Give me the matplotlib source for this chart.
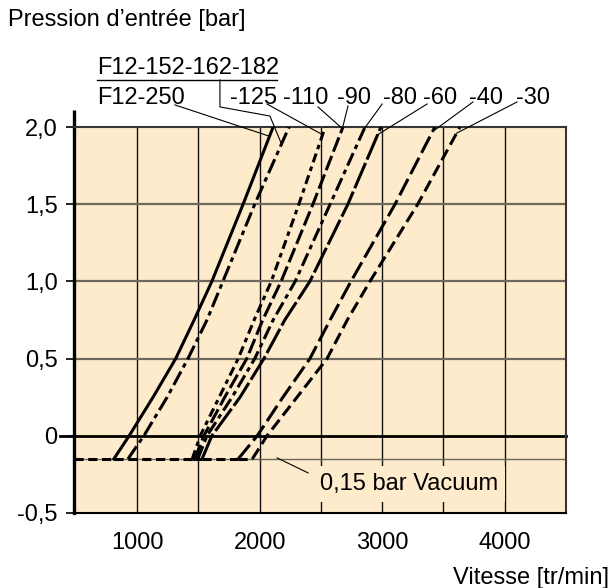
import numpy as np
import matplotlib
matplotlib.use("Agg")
import matplotlib.pyplot as plt

plt.rcParams["font.family"] = ["Liberation Sans", "DejaVu Sans"]
plt.rcParams["font.size"] = 17

# pressure levels (bar) at which the speed of each curve was read
pressure = [-0.15, 0.0, 0.25, 0.5, 0.75, 1.0, 1.5, 2.0]

# speed (rpm) per curve at those pressure levels
f12_250 = [810, 935, 1130, 1315, 1465, 1610, 1865, 2110]
f12_152 = [925, 1055, 1245, 1415, 1570, 1700, 1960, 2240]
f12_125 = [1450, 1515, 1670, 1825, 1955, 2095, 2320, 2535]
f12_110 = [1470, 1545, 1715, 1895, 2025, 2175, 2435, 2680]
f12_80 = [1495, 1570, 1775, 1960, 2110, 2290, 2575, 2860]
f12_60 = [1530, 1610, 1840, 2035, 2205, 2410, 2720, 2990]
f12_40 = [1825, 1980, 2190, 2410, 2575, 2745, 3105, 3430]
f12_30 = [1940, 2060, 2305, 2550, 2715, 2900, 3290, 3635]

curves = [f12_250, f12_152, f12_125, f12_110, f12_80, f12_60, f12_40, f12_30]
styles = [
    "-",
    (0, (5, 1.5, 1.5, 1.5)),
    (0, (3, 1.5, 1.5, 1.5)),
    (0, (5, 1.5)),
    (0, (4.5, 1.5, 1.5, 1.5)),
    (0, (9, 1.2)),
    (0, (6, 1.8)),
    (0, (4, 1.8)),
]

x_ticks = [1000, 2000, 3000, 4000]
x_labels = ["1000", "2000", "3000", "4000"]
y_ticks = [-0.5, 0, 0.5, 1.0, 1.5, 2.0]
y_labels = ["-0,5", "0", "0,5", "1,0", "1,5", "2,0"]

# curve labels: text, curve index, text x, leader start (x, y), leader end pressure
lbl_text = ["F12-250", "-125", "-110", "-90", "-80", "-60", "-40", "-30"]
lbl_curve = [0, 2, 3, 3, 4, 5, 6, 7]
lbl_x = [673, 1758, 2191, 2631, 3007, 3333, 3708, 4092]
lead_x = [1309, 2060, 2476, 2721, 3000, 3366, 3741, 4100]
lead_y = [2.143, 2.149, 2.13, 2.136, 2.149, 2.149, 2.162, 2.162]
lead_p = [1.94, 1.95, 1.99, 1.99, 1.99, 1.95, 1.97, 1.96]

bg = "#FEEBCC"
xmin, xmax = 485, 4500

fig = plt.figure(figsize=(6.12, 5.88), dpi=100)
ax = fig.add_axes([74 / 612, 75 / 588, 492 / 612, 386 / 588])
ax.set_xlim(xmin, xmax)
ax.set_ylim(-0.5, 2.0)
ax.set_facecolor(bg)

# grid
for gx in np.arange(1000, 4500, 500):
    ax.axvline(gx, color="#111111", lw=1.0, zorder=1)
for gy in [0.5, 1.0, 1.5]:
    ax.axhline(gy, color="#6e675c", lw=1.6, zorder=1)
ax.axhline(-0.15, color="#6e675c", lw=1.0, zorder=1)
ax.axhline(0, xmin=-0.0285, xmax=1, color="black", lw=2.0, zorder=2, clip_on=False)

# curves: flat vacuum part + rising part
starts = [c[0] for c in curves]
prev = xmin
for i in np.argsort(starts):
    c = curves[i]
    ax.plot([prev, c[0]], [pressure[0], pressure[0]], color="black", lw=2.2,
            ls=(0, (3, 1.5)), solid_capstyle="butt", zorder=3)
    prev = c[0]
for c, st in zip(curves, styles):
    ax.plot(c, pressure, color="black", lw=2.2, ls=st, zorder=3)

# spines and ticks
for s in ["top", "right", "bottom"]:
    ax.spines[s].set_linewidth(1.5)
ax.spines["top"].set_color("#3a3530")
ax.spines["right"].set_color("#3a3530")
ax.spines["left"].set_linewidth(2.4)
ax.plot([xmin, xmin], [2.0, 2.11], color="black", lw=2.4, clip_on=False,
        solid_capstyle="butt")

ax.set_xticks(x_ticks)
ax.set_xticklabels(x_labels)
ax.set_yticks(y_ticks)
ax.set_yticklabels(y_labels)
ax.tick_params(axis="x", length=0, pad=14)
ax.tick_params(axis="y", length=5.8, width=1.4, pad=6, color="#222222")

# curve labels and leaders
for t, ci, tx, sx, sy, p in zip(lbl_text, lbl_curve, lbl_x, lead_x, lead_y, lead_p):
    ax.text(tx, 2.19, t, ha="left", va="center", clip_on=False)
    ex = np.interp(p, pressure, curves[ci])
    ax.plot([sx, ex], [sy, p], color="black", lw=0.8, clip_on=False, zorder=4)

ax.text(673, 2.385, "F12-152-162-182", ha="left", va="center", clip_on=False)
ax.plot([673, 2142], [2.305, 2.305], color="black", lw=1.0, clip_on=False)
ex2 = np.interp(1.89, pressure, curves[1])
ax.plot([1676, 1676, 2084, ex2], [2.305, 2.13, 2.071, 1.89], color="black",
        lw=0.8, clip_on=False, zorder=4)

# vacuum label
ax.text(2492, -0.31, "0,15 bar Vacuum", ha="left", va="center", zorder=2.5,
        bbox=dict(facecolor=bg, edgecolor="none", pad=5))
ax.plot([2142, 2395], [-0.143, -0.24], color="black", lw=0.8, zorder=4)

fig.text(8 / 612, 1 - 20 / 588, "Pression d\u2019entr\u00e9e [bar]", ha="left", va="center")
fig.text(609 / 612, 4 / 588, "Vitesse [tr/min]", ha="right", va="baseline")

fig.savefig("out.png", dpi=100)
